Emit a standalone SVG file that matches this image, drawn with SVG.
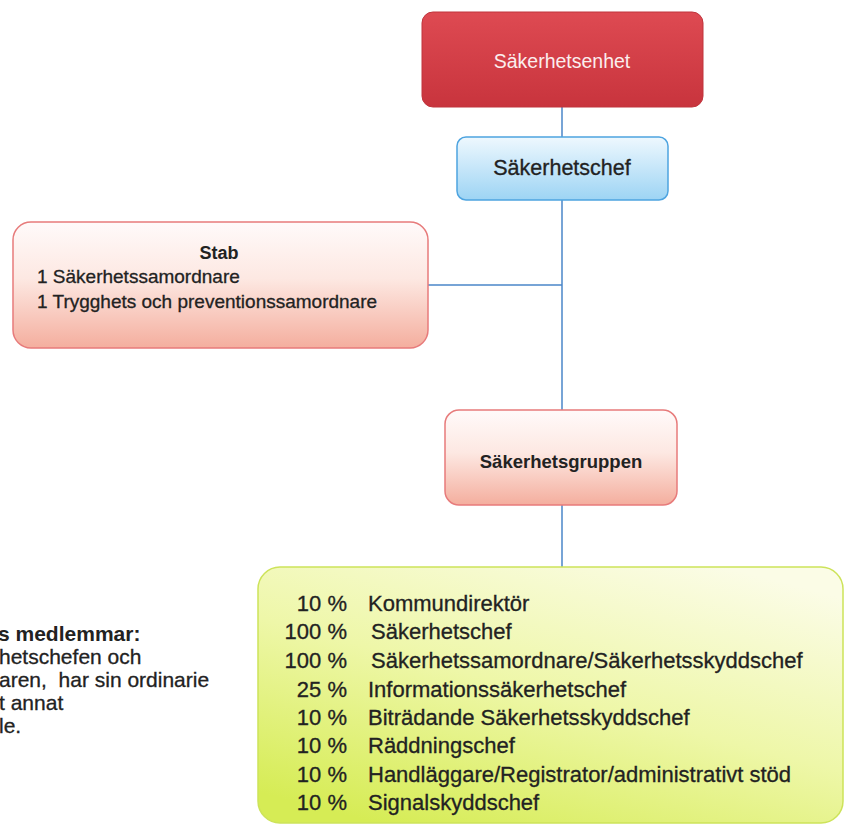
<svg xmlns="http://www.w3.org/2000/svg" width="846" height="832" viewBox="0 0 846 832">
<defs>
<linearGradient id="gRed" x1="0" y1="0" x2="0" y2="1"><stop offset="0" stop-color="#de4a52"/><stop offset="1" stop-color="#c8343d"/></linearGradient>
<linearGradient id="gBlue" x1="0" y1="0" x2="0" y2="1"><stop offset="0" stop-color="#eef8fe"/><stop offset="1" stop-color="#9dd4f4"/></linearGradient>
<linearGradient id="gPink" x1="0" y1="0" x2="0" y2="1"><stop offset="0" stop-color="#fffafa"/><stop offset="0.45" stop-color="#fde8e2"/><stop offset="1" stop-color="#f4ae9e"/></linearGradient>
<linearGradient id="gGreen" x1="0.8" y1="0" x2="0.2" y2="1"><stop offset="0" stop-color="#fbfce6"/><stop offset="0.5" stop-color="#eef7a8"/><stop offset="1" stop-color="#d6ec55"/></linearGradient>
<style>
.conn{stroke:#4a86c8;stroke-width:1.5;fill:none}
.t{font-family:"Liberation Sans",Arial,sans-serif;fill:#222;stroke:#222;stroke-width:0.3}
.b{font-weight:bold;stroke-width:0}
.pink{fill:url(#gPink);stroke:#e77b7b;stroke-width:1.5}
</style>
</defs>
<g id="connectors">
<line class="conn" x1="562" y1="107" x2="562" y2="137"/>
<line class="conn" x1="562" y1="200" x2="562" y2="410"/>
<line class="conn" x1="428" y1="285" x2="562" y2="285"/>
<line class="conn" x1="562" y1="505" x2="562" y2="567"/>
</g>
<g id="sakerhetsenhet">
<rect x="422" y="12" width="281" height="95" rx="11" fill="url(#gRed)" stroke="#c0343c" stroke-width="1"/>
<text x="562" y="68" text-anchor="middle" font-size="19.5" font-family="Liberation Sans, Arial, sans-serif" fill="#fbeeee">Säkerhetsenhet</text>
</g>
<g id="sakerhetschef">
<rect x="457" y="137" width="211" height="63" rx="9" fill="url(#gBlue)" stroke="#4ea4e0" stroke-width="1.5"/>
<text class="t" x="562" y="175" text-anchor="middle" font-size="21.5">Säkerhetschef</text>
</g>
<g id="stab">
<rect class="pink" x="13" y="222" width="415" height="126" rx="18"/>
<text class="t b" x="219" y="259" text-anchor="middle" font-size="18">Stab</text>
<text class="t" x="37" y="283" font-size="19">1 Säkerhetssamordnare</text>
<text class="t" x="37" y="308" font-size="19">1 Trygghets och preventionssamordnare</text>
</g>
<g id="sakerhetsgruppen">
<rect class="pink" x="445" y="410" width="232" height="95" rx="14"/>
<text class="t b" x="561" y="468" text-anchor="middle" font-size="18.5">Säkerhetsgruppen</text>
</g>
<g id="medlemmar">
<rect x="258" y="567" width="585" height="256" rx="22" fill="url(#gGreen)" stroke="#cde35a" stroke-width="1.5"/>
<g class="t" font-size="22">
<text x="347" y="611" text-anchor="end">10 %</text><text x="368" y="611">Kommundirektör</text>
<text x="347" y="639" text-anchor="end">100 %</text><text x="371" y="639">Säkerhetschef</text>
<text x="347" y="668" text-anchor="end">100 %</text><text x="371" y="668">Säkerhetssamordnare/Säkerhetsskyddschef</text>
<text x="347" y="697" text-anchor="end">25 %</text><text x="368" y="697">Informationssäkerhetschef</text>
<text x="347" y="725" text-anchor="end">10 %</text><text x="368" y="725">Biträdande Säkerhetsskyddschef</text>
<text x="347" y="753" text-anchor="end">10 %</text><text x="368" y="753">Räddningschef</text>
<text x="347" y="782" text-anchor="end">10 %</text><text x="368" y="782">Handläggare/Registrator/administrativt stöd</text>
<text x="347" y="810" text-anchor="end">10 %</text><text x="368" y="810">Signalskyddschef</text>
</g>
</g>
<g id="note" class="t" font-size="21">
<text class="b" x="-2" y="641">s medlemmar:</text>
<text x="-1" y="664">hetschefen och</text>
<text x="-1" y="687">aren,&#160; har sin ordinarie</text>
<text x="-1" y="710">t annat</text>
<text x="-1" y="733">le.</text>
</g>
</svg>
